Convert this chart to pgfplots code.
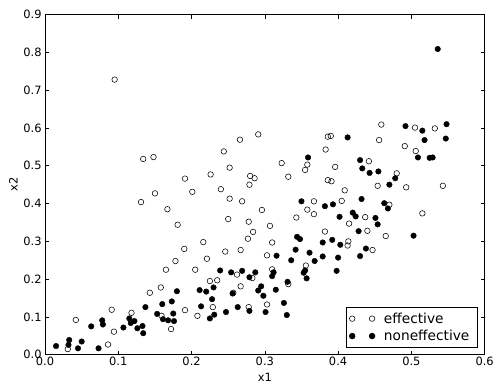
\documentclass[border=0pt]{standalone}
\usepackage{fontspec}
\setmainfont{DejaVu Sans}
\usepackage{pgfplots}
\pgfplotsset{compat=1.18}
\pgfplotsset{two marks legend/.style={legend image code/.code={\draw[##1, only marks] plot coordinates {(0bp,0bp) (20bp,0bp)};}}}
\begin{document}
\begin{tikzpicture}
\begin{axis}[
  at={(0,0)}, anchor=south west,
  scale only axis, width=442bp, height=342bp,
  xmin=0, xmax=0.6, ymin=0, ymax=0.9,
  xtick={0,0.1,0.2,0.3,0.4,0.5,0.6},
  ytick={0,0.1,0.2,0.3,0.4,0.5,0.6,0.7,0.8,0.9},
  /pgf/number format/.cd, fixed, fixed zerofill, precision=1, assume math mode=true, /pgfplots/.cd,
  tick align=inside, tick pos=both, major tick length=4bp,
  tick style={black, line width=0.6bp},
  axis line style={black, line width=0.8bp},
  tick label style={font=\fontsize{11.5bp}{13bp}\selectfont},
  xticklabel style={yshift=1bp},
  label style={font=\fontsize{11.5bp}{13bp}\selectfont},
  xlabel={x1}, ylabel={x2},
  xlabel style={yshift=0bp},
  ylabel style={yshift=-1bp},
  legend cell align=left,
  legend style={at={(1,0)}, anchor=south east, xshift=-7.3bp, yshift=7.4bp,
    draw=black, line width=0.8bp, font=\fontsize{13.8bp}{15bp}\selectfont,
    inner sep=3bp, row sep=1.5bp,
    nodes={inner xsep=4.6bp, inner ysep=2bp},
    /tikz/every even column/.append style={column sep=0bp},
    /tikz/every odd column/.append style={column sep=4.5bp}},
]
\addplot[only marks, mark=o, mark size=2.8bp, draw=black, mark options={line width=0.55bp}, two marks legend]
table {
0.095 0.728
0.134 0.518
0.148 0.523
0.150 0.427
0.131 0.404
0.291 0.583
0.266 0.569
0.244 0.538
0.252 0.495
0.226 0.477
0.191 0.466
0.280 0.473
0.286 0.467
0.279 0.450
0.240 0.438
0.201 0.431
0.252 0.413
0.269 0.406
0.167 0.385
0.296 0.383
0.181 0.344
0.250 0.359
0.278 0.352
0.307 0.341
0.284 0.325
0.277 0.307
0.459 0.609
0.386 0.577
0.390 0.579
0.456 0.568
0.383 0.543
0.323 0.507
0.358 0.503
0.355 0.489
0.396 0.497
0.442 0.512
0.332 0.471
0.386 0.462
0.391 0.459
0.454 0.447
0.409 0.435
0.367 0.406
0.405 0.407
0.358 0.384
0.367 0.372
0.343 0.363
0.437 0.364
0.415 0.347
0.382 0.326
0.440 0.328
0.465 0.314
0.505 0.601
0.532 0.599
0.491 0.552
0.506 0.539
0.480 0.480
0.493 0.443
0.543 0.447
0.470 0.397
0.515 0.374
0.031 0.015
0.042 0.092
0.086 0.027
0.091 0.119
0.094 0.061
0.118 0.111
0.143 0.164
0.158 0.178
0.216 0.298
0.190 0.280
0.246 0.273
0.267 0.277
0.303 0.263
0.310 0.297
0.178 0.248
0.221 0.254
0.165 0.225
0.205 0.225
0.225 0.195
0.235 0.197
0.262 0.212
0.283 0.203
0.267 0.181
0.257 0.164
0.191 0.118
0.229 0.126
0.208 0.103
0.278 0.126
0.303 0.133
0.159 0.103
0.172 0.068
0.310 0.226
0.414 0.300
0.413 0.289
0.447 0.277
0.356 0.236
0.332 0.187
};
\addlegendentry{effective}
\addplot[only marks, mark=*, mark size=2.8bp, draw=black, fill=black, two marks legend]
table {
0.536 0.809
0.413 0.575
0.359 0.522
0.430 0.515
0.433 0.493
0.443 0.481
0.455 0.485
0.432 0.412
0.350 0.406
0.382 0.393
0.393 0.398
0.420 0.376
0.424 0.366
0.402 0.365
0.451 0.362
0.454 0.345
0.428 0.327
0.492 0.605
0.515 0.593
0.548 0.610
0.518 0.568
0.547 0.572
0.509 0.522
0.525 0.521
0.529 0.522
0.478 0.467
0.470 0.450
0.463 0.401
0.468 0.387
0.503 0.315
0.015 0.023
0.033 0.039
0.032 0.026
0.045 0.017
0.050 0.035
0.063 0.075
0.073 0.017
0.078 0.091
0.079 0.080
0.107 0.072
0.115 0.096
0.117 0.084
0.122 0.089
0.126 0.070
0.133 0.076
0.134 0.057
0.137 0.126
0.153 0.108
0.180 0.168
0.160 0.134
0.173 0.141
0.175 0.109
0.161 0.094
0.168 0.091
0.176 0.089
0.211 0.171
0.220 0.167
0.230 0.178
0.239 0.223
0.254 0.218
0.269 0.222
0.287 0.218
0.279 0.205
0.228 0.147
0.213 0.128
0.231 0.106
0.225 0.096
0.247 0.113
0.256 0.162
0.263 0.126
0.279 0.116
0.291 0.170
0.295 0.181
0.298 0.156
0.301 0.113
0.310 0.208
0.344 0.312
0.348 0.306
0.379 0.297
0.392 0.304
0.403 0.291
0.438 0.281
0.430 0.261
0.342 0.278
0.361 0.270
0.316 0.262
0.336 0.250
0.368 0.248
0.379 0.260
0.400 0.257
0.398 0.222
0.312 0.218
0.355 0.223
0.353 0.217
0.357 0.202
0.331 0.193
0.315 0.172
0.326 0.137
0.330 0.105
};
\addlegendentry{noneffective}
\end{axis}
\path[use as bounding box] (-45.3bp,-26.3bp) rectangle (451.7bp,356.7bp);
\end{tikzpicture}
\end{document}
